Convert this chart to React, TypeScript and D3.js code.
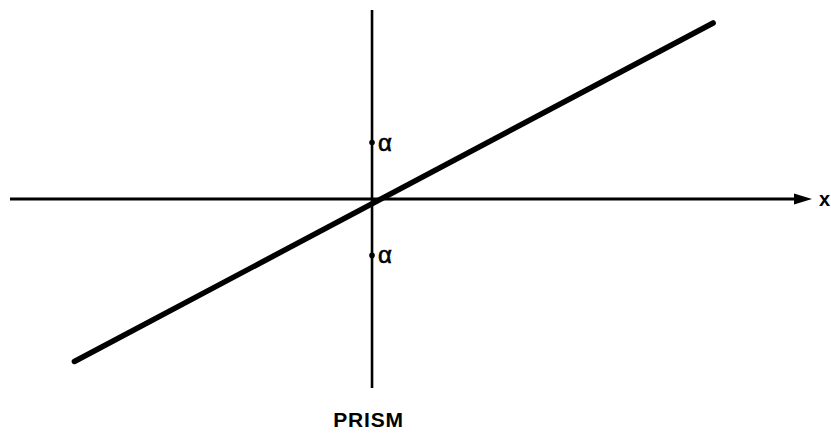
import React from "react";
import * as d3 from "d3";

const W = 831;
const H = 437;

// data units: alpha = 1
const xDomain: [number, number] = [-6.41, 7.79];
const yDomain: [number, number] = [-3.35, 3.35];
const linePoints: [number, number][] = [
  [-5.27, -2.88],
  [6.04, 3.12],
];
const yTicks = [1, -1];
const tickLabel = "α";
const axisLabel = "x";
const title = "PRISM";

export default function App() {
  const x = d3.scaleLinear().domain(xDomain).range([10, 812]);
  const y = d3.scaleLinear().domain(yDomain).range([388, 10]);
  const line = d3
    .line<[number, number]>()
    .x((d) => x(d[0]))
    .y((d) => y(d[1]));
  const x0 = x(0);
  const y0 = y(0);
  const xr = x(xDomain[1]);
  return (
    <svg
      width={W}
      height={H}
      style={{ position: "absolute", left: 0, top: 0, background: "#fff" }}
      fontFamily="Liberation Sans, Arial, sans-serif"
    >
      <rect width={W} height={H} fill="#fff" />
      {/* vertical axis */}
      <line x1={x0} x2={x0} y1={y(yDomain[1])} y2={y(yDomain[0])} stroke="#000" strokeWidth={2.6} />
      {/* horizontal axis */}
      <line x1={x(xDomain[0])} x2={xr - 14} y1={y0} y2={y0} stroke="#000" strokeWidth={3} />
      <path d={`M${xr},${y0} L${xr - 18},${y0 - 5.5} L${xr - 18},${y0 + 5.5} Z`} fill="#000" />
      <text x={xr + 7} y={y0 + 7} fontSize={20} fontWeight="bold">
        {axisLabel}
      </text>
      {yTicks.map((t) => (
        <g key={t}>
          <circle cx={x0} cy={y(t)} r={2.8} fill="#000" />
          <text x={x0 + 6} y={y(t) + 8} fontSize={24} stroke="#000" strokeWidth={0.6}>
            {tickLabel}
          </text>
        </g>
      ))}
      <path d={line(linePoints) || ""} fill="none" stroke="#000" strokeWidth={5.5} strokeLinecap="round" />
      <text x={368.5} y={427} fontSize={21} fontWeight="bold" textAnchor="middle" letterSpacing={0.8}>
        {title}
      </text>
    </svg>
  );
}
